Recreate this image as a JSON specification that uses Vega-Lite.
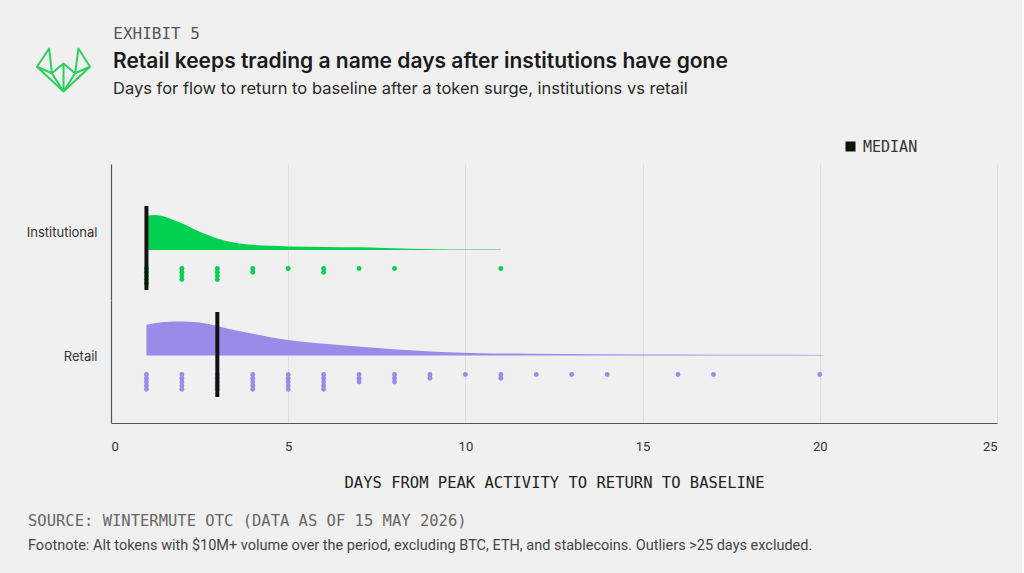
{
  "$schema": "https://vega.github.io/schema/vega-lite/v6.json",
  "background": "#f0f0f0",
  "padding": {"left": 26, "top": 26, "right": 25, "bottom": 22},
  "title": {"text": "EXHIBIT 5", "anchor": "start", "frame": "bounds", "dx": 87, "font": "DejaVu Sans Mono", "fontSize": 16, "fontWeight": "normal", "color": "#555555", "offset": 3},
  "datasets": {
    "curves": [
      {"group": "Institutional", "days": 1.0, "density": 0.343},
      {"group": "Institutional", "days": 1.25, "density": 0.350},
      {"group": "Institutional", "days": 1.5, "density": 0.334},
      {"group": "Institutional", "days": 1.75, "density": 0.302},
      {"group": "Institutional", "days": 2.0, "density": 0.267},
      {"group": "Institutional", "days": 2.25, "density": 0.225},
      {"group": "Institutional", "days": 2.5, "density": 0.183},
      {"group": "Institutional", "days": 2.75, "density": 0.148},
      {"group": "Institutional", "days": 3.0, "density": 0.116},
      {"group": "Institutional", "days": 3.5, "density": 0.072},
      {"group": "Institutional", "days": 4.0, "density": 0.052},
      {"group": "Institutional", "days": 4.5, "density": 0.042},
      {"group": "Institutional", "days": 5.0, "density": 0.036},
      {"group": "Institutional", "days": 6.0, "density": 0.031},
      {"group": "Institutional", "days": 7.0, "density": 0.027},
      {"group": "Institutional", "days": 7.7, "density": 0.020},
      {"group": "Institutional", "days": 8.7, "density": 0.010},
      {"group": "Institutional", "days": 9.6, "density": 0.006},
      {"group": "Institutional", "days": 11.0, "density": 0.005},
      {"group": "Retail", "days": 1.0, "density": 0.307},
      {"group": "Retail", "days": 1.5, "density": 0.336},
      {"group": "Retail", "days": 2.0, "density": 0.340},
      {"group": "Retail", "days": 2.5, "density": 0.330},
      {"group": "Retail", "days": 3.0, "density": 0.296},
      {"group": "Retail", "days": 3.5, "density": 0.252},
      {"group": "Retail", "days": 4.0, "density": 0.217},
      {"group": "Retail", "days": 4.5, "density": 0.183},
      {"group": "Retail", "days": 5.1, "density": 0.150},
      {"group": "Retail", "days": 5.85, "density": 0.123},
      {"group": "Retail", "days": 6.7, "density": 0.097},
      {"group": "Retail", "days": 7.6, "density": 0.073},
      {"group": "Retail", "days": 8.55, "density": 0.050},
      {"group": "Retail", "days": 9.5, "density": 0.033},
      {"group": "Retail", "days": 10.4, "density": 0.023},
      {"group": "Retail", "days": 11.8, "density": 0.018},
      {"group": "Retail", "days": 13.8, "density": 0.013},
      {"group": "Retail", "days": 16.0, "density": 0.010},
      {"group": "Retail", "days": 18.0, "density": 0.007},
      {"group": "Retail", "days": 20.1, "density": 0.005}
    ],
    "tokens": [
      {"group": "Institutional", "days": 1}, {"group": "Institutional", "days": 1}, {"group": "Institutional", "days": 1}, {"group": "Institutional", "days": 1}, {"group": "Institutional", "days": 1},
      {"group": "Institutional", "days": 2}, {"group": "Institutional", "days": 2}, {"group": "Institutional", "days": 2}, {"group": "Institutional", "days": 2},
      {"group": "Institutional", "days": 3}, {"group": "Institutional", "days": 3}, {"group": "Institutional", "days": 3}, {"group": "Institutional", "days": 3},
      {"group": "Institutional", "days": 4}, {"group": "Institutional", "days": 4},
      {"group": "Institutional", "days": 5},
      {"group": "Institutional", "days": 6}, {"group": "Institutional", "days": 6},
      {"group": "Institutional", "days": 7},
      {"group": "Institutional", "days": 8},
      {"group": "Institutional", "days": 11},
      {"group": "Retail", "days": 1}, {"group": "Retail", "days": 1}, {"group": "Retail", "days": 1}, {"group": "Retail", "days": 1}, {"group": "Retail", "days": 1},
      {"group": "Retail", "days": 2}, {"group": "Retail", "days": 2}, {"group": "Retail", "days": 2}, {"group": "Retail", "days": 2}, {"group": "Retail", "days": 2},
      {"group": "Retail", "days": 3}, {"group": "Retail", "days": 3}, {"group": "Retail", "days": 3}, {"group": "Retail", "days": 3}, {"group": "Retail", "days": 3},
      {"group": "Retail", "days": 4}, {"group": "Retail", "days": 4}, {"group": "Retail", "days": 4}, {"group": "Retail", "days": 4}, {"group": "Retail", "days": 4},
      {"group": "Retail", "days": 5}, {"group": "Retail", "days": 5}, {"group": "Retail", "days": 5}, {"group": "Retail", "days": 5}, {"group": "Retail", "days": 5},
      {"group": "Retail", "days": 6}, {"group": "Retail", "days": 6}, {"group": "Retail", "days": 6}, {"group": "Retail", "days": 6}, {"group": "Retail", "days": 6},
      {"group": "Retail", "days": 7}, {"group": "Retail", "days": 7}, {"group": "Retail", "days": 7},
      {"group": "Retail", "days": 8}, {"group": "Retail", "days": 8}, {"group": "Retail", "days": 8},
      {"group": "Retail", "days": 9}, {"group": "Retail", "days": 9},
      {"group": "Retail", "days": 10},
      {"group": "Retail", "days": 11}, {"group": "Retail", "days": 11},
      {"group": "Retail", "days": 12},
      {"group": "Retail", "days": 13},
      {"group": "Retail", "days": 14},
      {"group": "Retail", "days": 16},
      {"group": "Retail", "days": 17},
      {"group": "Retail", "days": 20}
    ],
    "medians": [
      {"group": "Institutional", "median_days": 1},
      {"group": "Retail", "median_days": 3}
    ]
  },
  "spacing": 67,
  "vconcat": [
    {
      "width": 65,
      "height": 50,
      "data": {"values": [{"item": "logo"}]},
      "title": {
        "text": "Retail keeps trading a name days after institutions have gone",
        "subtitle": "Days for flow to return to baseline after a token surge, institutions vs retail",
        "anchor": "start", "frame": "group", "dx": 2, "dy": 56,
        "font": "Inter", "fontSize": 21, "fontWeight": 600, "color": "#1a1a1a",
        "subtitleFont": "Inter", "subtitleFontSize": 16.5, "subtitleColor": "#2a2a2a", "subtitlePadding": 9
      },
      "mark": {
        "type": "point",
        "shape": "M -0.48 -0.72 L -0.89 -0.11 L 0 0.72 L 0.89 -0.11 L 0.5 -0.72 L 0.39 0.11 L 0 -0.22 L -0.39 0.11 Z M -0.89 -0.11 L -0.39 0.11 L 0 0.72 L 0.39 0.11 L 0.89 -0.11 M 0 -0.22 L 0 0.72",
        "size": 3550, "filled": false, "stroke": "#2fcf5f", "strokeWidth": 2, "strokeJoin": "round", "opacity": 1, "xOffset": -80
      },
      "encoding": {}
    },
    {
      "spacing": 0,
      "vconcat": [
        {
          "width": 886,
          "height": 136,
          "resolve": {"scale": {"y": "independent"}},
          "layer": [
            {
              "data": {"name": "curves"},
              "transform": [{"filter": "datum.group === 'Institutional'"}],
              "mark": {"type": "area", "color": "#00d24f", "interpolate": "monotone"},
              "encoding": {
                "x": {"field": "days", "type": "quantitative", "scale": {"domain": [0, 25], "nice": false, "zero": false},
                  "axis": {"values": [0, 5, 10, 15, 20, 25], "grid": true, "gridColor": "#dddddd", "labels": false, "ticks": false, "domain": false, "title": null}},
                "y": {"field": "density", "type": "quantitative", "scale": {"domain": [-0.5, 0.86], "nice": false, "zero": false},
                  "axis": {"grid": false, "labels": false, "ticks": false, "domain": true, "domainColor": "#555555", "domainWidth": 1.2, "values": [],
                    "title": "Institutional", "titleAngle": 0, "titleAlign": "right", "titleBaseline": "middle", "titleX": -14, "titleY": 68,
                    "titleFont": "Inter", "titleFontSize": 13, "titleFontWeight": "normal", "titleColor": "#333333"}},
                "y2": {"datum": 0}
              }
            },
            {
              "data": {"name": "tokens"},
              "transform": [
                {"filter": "datum.group === 'Institutional'"},
                {"window": [{"op": "row_number", "as": "rank"}], "groupby": ["days"]}
              ],
              "mark": {"type": "point", "filled": true, "size": 24, "color": "#00d24f", "opacity": 1},
              "encoding": {
                "x": {"field": "days", "type": "quantitative", "scale": {"domain": [0, 25], "nice": false, "zero": false},
                  "axis": {"values": [0, 5, 10, 15, 20, 25], "grid": true, "gridColor": "#dddddd", "labels": false, "ticks": false, "domain": false, "title": null}},
                "y": {"field": "rank", "type": "quantitative", "scale": {"domain": [-27.24, 9.52], "reverse": true, "nice": false, "zero": false}, "axis": null}
              }
            },
            {
              "data": {"name": "medians"},
              "transform": [{"filter": "datum.group === 'Institutional'"}],
              "mark": {"type": "rule", "strokeWidth": 4},
              "encoding": {
                "x": {"field": "median_days", "type": "quantitative", "scale": {"domain": [0, 25], "nice": false, "zero": false},
                  "axis": {"values": [0, 5, 10, 15, 20, 25], "grid": true, "gridColor": "#dddddd", "labels": false, "ticks": false, "domain": false, "title": null}},
                "y": {"datum": 0.44, "type": "quantitative", "scale": {"domain": [-0.5, 0.86], "nice": false, "zero": false}, "axis": null},
                "y2": {"datum": -0.40},
                "color": {"datum": "MEDIAN", "type": "nominal", "scale": {"range": ["#111111"]},
                  "legend": {"title": null, "orient": "none", "legendX": 732, "legendY": 94, "symbolType": "square", "symbolSize": 100,
                    "symbolFillColor": "#111111", "symbolStrokeColor": "#111111", "symbolStrokeWidth": 0,
                    "labelFont": "DejaVu Sans Mono", "labelFontSize": 15, "labelColor": "#333333", "labelOffset": 5}}
              }
            }
          ]
        },
        {
          "width": 886,
          "height": 123,
          "resolve": {"scale": {"y": "independent"}},
          "title": {
            "text": "SOURCE: WINTERMUTE OTC (DATA AS OF 15 MAY 2026)",
            "subtitle": "Footnote: Alt tokens with $10M+ volume over the period, excluding BTC, ETH, and stablecoins. Outliers >25 days excluded.",
            "orient": "bottom", "anchor": "start", "frame": "group", "dx": -83, "offset": 23,
            "font": "DejaVu Sans Mono", "fontSize": 15.5, "fontWeight": "normal", "color": "#666666",
            "subtitleFont": "Roboto", "subtitleFontSize": 14.5, "subtitleColor": "#444444", "subtitlePadding": 10
          },
          "layer": [
            {
              "data": {"name": "curves"},
              "transform": [{"filter": "datum.group === 'Retail'"}],
              "mark": {"type": "area", "color": "#988ce8", "interpolate": "monotone"},
              "encoding": {
                "x": {"field": "days", "type": "quantitative", "scale": {"domain": [0, 25], "nice": false, "zero": false},
                  "axis": {"values": [0, 5, 10, 15, 20, 25], "grid": true, "gridColor": "#dddddd", "labels": true, "ticks": false, "domain": true, "domainColor": "#555555", "domainWidth": 1.2,
                    "labelPadding": 17, "labelFont": "Roboto", "labelFontSize": 13, "labelColor": "#333333",
                    "title": "DAYS FROM PEAK ACTIVITY TO RETURN TO BASELINE", "titlePadding": 22, "titleFont": "DejaVu Sans Mono", "titleFontSize": 15.5, "titleFontWeight": "normal", "titleColor": "#222222"}},
                "y": {"field": "density", "type": "quantitative", "scale": {"domain": [-0.675, 0.555], "nice": false, "zero": false},
                  "axis": {"grid": false, "labels": false, "ticks": false, "domain": true, "domainColor": "#555555", "domainWidth": 1.2, "values": [],
                    "title": "Retail", "titleAngle": 0, "titleAlign": "right", "titleBaseline": "middle", "titleX": -14, "titleY": 56,
                    "titleFont": "Inter", "titleFontSize": 13, "titleFontWeight": "normal", "titleColor": "#333333"}},
                "y2": {"datum": 0}
              }
            },
            {
              "data": {"name": "tokens"},
              "transform": [
                {"filter": "datum.group === 'Retail'"},
                {"window": [{"op": "row_number", "as": "rank"}], "groupby": ["days"]}
              ],
              "mark": {"type": "point", "filled": true, "size": 24, "color": "#988ce8", "opacity": 1},
              "encoding": {
                "x": {"field": "days", "type": "quantitative", "scale": {"domain": [0, 25], "nice": false, "zero": false},
                  "axis": {"values": [0, 5, 10, 15, 20, 25], "grid": true, "gridColor": "#dddddd", "labels": true, "ticks": false, "domain": true, "domainColor": "#555555", "domainWidth": 1.2,
                    "labelPadding": 17, "labelFont": "Roboto", "labelFontSize": 13, "labelColor": "#333333",
                    "title": "DAYS FROM PEAK ACTIVITY TO RETURN TO BASELINE", "titlePadding": 22, "titleFont": "DejaVu Sans Mono", "titleFontSize": 15.5, "titleFontWeight": "normal", "titleColor": "#222222"}},
                "y": {"field": "rank", "type": "quantitative", "scale": {"domain": [-19.14, 14.1], "reverse": true, "nice": false, "zero": false}, "axis": null}
              }
            },
            {
              "data": {"name": "medians"},
              "transform": [{"filter": "datum.group === 'Retail'"}],
              "mark": {"type": "rule", "strokeWidth": 4},
              "encoding": {
                "x": {"field": "median_days", "type": "quantitative", "scale": {"domain": [0, 25], "nice": false, "zero": false},
                  "axis": {"values": [0, 5, 10, 15, 20, 25], "grid": true, "gridColor": "#dddddd", "labels": true, "ticks": false, "domain": true, "domainColor": "#555555", "domainWidth": 1.2,
                    "labelPadding": 17, "labelFont": "Roboto", "labelFontSize": 13, "labelColor": "#333333",
                    "title": "DAYS FROM PEAK ACTIVITY TO RETURN TO BASELINE", "titlePadding": 22, "titleFont": "DejaVu Sans Mono", "titleFontSize": 15.5, "titleFontWeight": "normal", "titleColor": "#222222"}},
                "y": {"datum": 0.435, "type": "quantitative", "scale": {"domain": [-0.675, 0.555], "nice": false, "zero": false}, "axis": null},
                "y2": {"datum": -0.415},
                "color": {"datum": "MEDIAN", "type": "nominal", "scale": {"range": ["#111111"]}}
              }
            }
          ]
        }
      ]
    }
  ],
  "config": {
    "view": {"stroke": null},
    "font": "Roboto"
  }
}
